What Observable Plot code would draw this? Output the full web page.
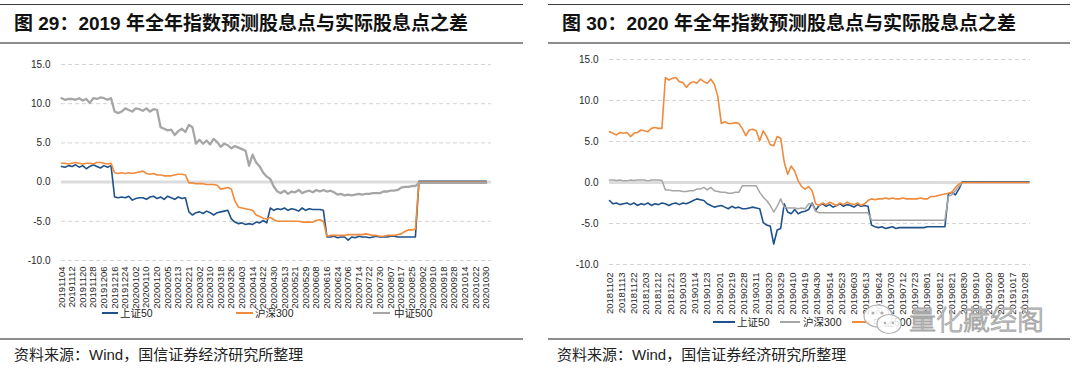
<!DOCTYPE html>
<html><head><meta charset="utf-8">
<script src="https://cdn.jsdelivr.net/npm/d3@7"></script>
<script src="https://cdn.jsdelivr.net/npm/@observablehq/plot@0.6"></script>
<style>
body{margin:0;background:#fff;}
#page{position:relative;width:1080px;height:369px;overflow:hidden;background:#fff;font-family:"Liberation Sans",Arial,"Noto Sans CJK SC",sans-serif;}
.abs{position:absolute;}
.rtop{height:1px;background:#3c3c3c;}
.rmid{height:2px;background:#8c8c8c;}
.rbot{height:2px;background:#8c8c8c;}
.title{font-family:"Liberation Sans","Noto Sans CJK SC",sans-serif;font-weight:bold;font-size:19px;line-height:20px;color:#111;white-space:nowrap;}
.src{font-family:"Liberation Sans","Noto Sans CJK SC",sans-serif;font-size:15px;line-height:16px;color:#222;white-space:nowrap;}
.lg{font-family:"Liberation Sans","Noto Sans CJK SC",sans-serif;font-size:10.5px;line-height:12px;color:#262626;white-space:nowrap;}
.lgline{height:2px;}
.wm{font-family:"Noto Sans CJK SC",sans-serif;font-weight:300;font-size:27px;line-height:30px;color:rgba(255,255,255,0.85);-webkit-text-stroke:1px #a8a8a8;white-space:nowrap;}
</style></head>
<body><div id="page"></div>
<script>
// ---------- data ----------
const STEP = 2; // values sampled every 2 trading days
// Figure 29 (2019 full-year), x labels every 6 trading days
const L_dates = ["20191104","20191112","20191120","20191128","20191206","20191216","20191224","20200102","20200110","20200120","20200205","20200213","20200221","20200302","20200310","20200318","20200326","20200403","20200414","20200422","20200430","20200513","20200521","20200529","20200608","20200616","20200624","20200706","20200714","20200722","20200730","20200807","20200817","20200825","20200902","20200910","20200918","20200928","20201014","20201022","20201030"];
const L_sz50 = [2.0,1.9,2.1,2.0,2.2,1.9,2.1,1.7,2.0,2.2,2.0,1.8,2.1,1.9,2.1,
 -1.9,-2.0,-1.9,-2.0,-1.8,-2.3,-2.1,-2.0,-2.0,-2.2,-1.9,-1.8,-2.1,-1.9,-2.2,-1.8,-2.0,-2.2,-1.9,-2.1,-2.0,
 -3.8,-4.2,-3.9,-3.8,-4.0,-3.7,-3.9,-4.2,-3.9,-3.8,-3.7,-3.6,
 -4.7,-5.1,-5.3,-5.2,-5.4,-5.3,-5.4,-5.1,-5.2,-4.9,-5.2,
 -3.3,-3.6,-3.4,-3.5,-3.3,-3.6,-3.4,-3.5,-3.7,-3.3,-3.6,-3.4,-3.5,-3.5,-3.5,-3.6,
 -7.0,-7.0,-6.9,-7.1,-7.0,-7.0,-7.4,-7.0,-7.1,-6.9,-7.0,-7.0,-7.1,-7.0,-6.9,-7.0,-7.0,-7.0,-6.9,-6.9,-7.0,-7.0,-7.0,-7.0,-7.0,-7.0,
 0.1,0.1,0.1,0.1,0.1,0.1,0.1,0.1,0.1,0.1,0.1,0.1,0.1,0.1,0.1,0.1,0.1,0.1,0.1,0.1];
const L_hs300 = [2.4,2.4,2.3,2.4,2.5,2.4,2.3,2.4,2.4,2.3,2.5,2.5,2.4,2.3,2.4,
 1.2,1.1,1.2,1.1,1.2,1.1,1.2,1.3,1.4,1.1,1.0,1.1,0.9,0.9,0.8,0.8,0.8,0.9,1.0,1.0,0.9,
 -0.1,-0.1,-0.2,-0.2,-0.2,-0.3,-0.3,-0.3,-0.4,
 -0.9,-0.8,-0.7,-0.9,
 -2.4,-3.2,-3.3,-3.4,-3.5,-3.6,
 -4.2,-4.4,-4.6,-4.7,-4.5,-4.8,
 -5.0,-5.0,-5.0,-5.0,-5.0,-5.0,-5.0,-5.1,-5.1,-5.1,-5.1,-4.9,-4.8,-5.0,
 -6.9,-6.8,-6.8,-6.8,-6.8,-6.8,-6.7,-6.7,-6.7,-6.7,-6.7,-6.6,-6.7,-6.8,-6.8,-6.9,-6.9,-6.8,-6.8,-6.8,-6.7,-6.6,-6.3,-6.1,-6.1,-6.0,
 0.0,0.0,0.0,0.0,0.0,0.0,0.0,0.0,0.0,0.0,0.0,0.0,0.0,0.0,0.0,0.0,0.0,0.0,0.0,0.0];
const L_zz500 = [10.7,10.5,10.6,10.6,10.5,10.7,10.4,10.6,10.1,10.7,10.6,10.8,10.7,10.5,10.7,
 9.0,8.8,9.0,9.4,9.2,9.0,9.4,9.3,9.1,9.4,9.0,9.3,9.2,
 7.0,6.8,6.6,6.7,6.0,6.5,6.8,6.4,7.3,7.0,
 4.9,5.4,4.9,5.3,4.8,5.5,5.1,4.5,4.9,4.7,4.3,4.6,4.4,4.2,4.0,
 2.1,3.5,2.5,2.0,1.2,0.7,0.4,
 -0.6,-1.2,-1.4,-1.1,-1.5,-1.2,-1.3,-1.0,-1.4,-1.2,-1.1,-1.3,-1.0,-1.2,-1.0,-1.2,-1.1,-1.3,
 -1.6,-1.5,-1.7,-1.6,-1.7,-1.6,-1.5,-1.6,-1.5,-1.5,-1.4,-1.4,-1.4,
 -1.2,-1.2,-1.1,-1.1,-1.0,-0.7,-0.6,-0.6,-0.5,-0.5,
 -0.1,-0.1,-0.1,-0.1,-0.1,-0.1,-0.1,-0.1,-0.1,-0.1,-0.1,-0.1,-0.1,-0.1,-0.1,-0.1,-0.1,-0.1,-0.1,-0.1];

// Figure 30 (2020 full-year), x labels every 7 trading days
const R_dates = ["20181102","20181113","20181122","20181203","20181212","20181221","20190103","20190114","20190123","20190201","20190219","20190228","20190311","20190320","20190329","20190410","20190419","20190430","20190514","20190523","20190603","20190613","20190624","20190703","20190712","20190723","20190801","20190812","20190821","20190830","20190910","20190920","20191008","20191017","20191028"];
const R_sz50 = [-2.2,-2.6,-2.5,-2.7,-2.6,-2.5,-2.7,-2.5,-2.8,-2.6,-2.7,-2.5,-2.8,-2.6,-2.7,-2.5,-2.6,-2.8,-2.6,-2.5,-2.7,-2.5,-2.6,-2.4,
 -2.2,-2.0,-2.1,-2.2,-2.6,-2.8,-3.0,-2.9,-2.8,-3.0,-3.2,-2.9,-3.1,-3.0,-3.2,-3.2,-3.1,-3.0,-3.1,-3.2,
 -4.9,-5.2,-5.3,-7.5,-5.8,-5.6,
 -2.6,-3.6,-3.8,-3.3,-3.8,-3.6,-3.5,-3.3,-2.5,
 -3.4,-2.8,-2.6,-2.9,-2.7,-3.0,-2.8,-2.6,-2.9,-2.7,-2.8,-3.0,-2.7,-2.9,-2.8,-2.9,
 -5.2,-5.4,-5.5,-5.4,-5.6,-5.5,-5.4,-5.6,-5.5,-5.5,-5.5,-5.5,-5.5,-5.5,-5.5,-5.5,-5.4,-5.4,-5.4,-5.4,-5.4,-5.4,
 -1.4,-1.2,-1.5,-0.8,
 0.1,0.1,0.1,0.1,0.1,0.1,0.1,0.1,0.1,0.1,0.1,0.1,0.1,0.1,0.1,0.1,0.1,0.1,0.1,0.1];
const R_hs300 = [0.3,0.3,0.25,0.3,0.2,0.2,0.3,0.25,0.3,0.3,0.3,0.2,0.3,0.3,0.3,0.25,
 -0.9,-0.9,-1.0,-1.0,-1.0,-1.1,-1.1,-1.0,-1.0,
 -0.8,-0.8,-0.6,-0.9,-0.6,-1.0,-1.1,-1.2,-1.2,-1.3,-1.3,-1.2,-1.2,
 -0.4,-0.4,-0.4,-0.4,-0.4,
 -1.2,-1.8,-2.2,-2.8,-3.6,-2.9,-2.0,-3.0,-3.1,-3.1,-3.1,-3.2,-3.1,-3.2,-2.6,-2.6,
 -3.5,-3.7,-3.7,-3.7,-3.7,-3.7,-3.7,-3.7,-3.7,-3.7,-3.7,-3.7,-3.7,-3.7,-3.7,-3.7,
 -4.6,-4.6,-4.6,-4.6,-4.6,-4.6,-4.6,-4.6,-4.6,-4.6,-4.6,-4.6,-4.6,-4.6,-4.6,-4.6,-4.6,-4.6,-4.6,-4.6,-4.6,-4.6,
 -1.7,-1.5,-1.0,-0.5,
 0.0,0.0,0.0,0.0,0.0,0.0,0.0,0.0,0.0,0.0,0.0,0.0,0.0,0.0,0.0,0.0,0.0,0.0,0.0,0.0];
const R_zz500 = [6.2,6.0,5.8,6.1,6.0,6.1,5.6,6.0,6.1,6.4,6.3,6.2,6.6,6.7,6.6,6.6,
 12.8,12.5,12.7,12.8,12.3,12.2,11.6,12.1,12.3,12.1,12.6,12.3,12.1,12.6,12.0,10.5,
 7.2,7.4,7.2,7.2,7.3,7.2,
 6.6,5.7,6.4,6.5,6.3,5.1,6.3,5.6,4.6,4.5,5.6,5.4,2.5,1.0,2.0,1.4,0.2,-0.5,-0.8,-0.5,
 -1.0,-2.6,
 -2.8,-2.5,-2.7,-2.4,-2.6,-2.8,-2.5,-2.7,-2.4,-2.6,-2.7,-2.5,-2.8,-2.6,
 -2.2,-2.0,
 -2.1,-2.0,-2.0,-1.9,-2.0,-1.9,-2.0,-2.0,-1.9,-2.0,-2.0,-2.0,-2.0,-1.9,-2.0,-2.0,
 -1.7,-1.7,-1.6,-1.5,-1.4,-1.3,-1.2,-0.6,-0.2,
 0.0,0.0,0.0,0.0,0.0,0.0,0.0,0.0,0.0,0.0,0.0,0.0,0.0,0.0,0.0,0.0,0.0,0.0,0.0,0.0];

const yTicks = [-10, -5, 0, 5, 10, 15];
const gridTicks = [-10, -5, 5, 10, 15];
const seriesNames = ["上证50", "沪深300", "中证500"];
const BLUE = "#1f528a", ORANGE = "#f08a3c", GRAY = "#a6a6a6";

// ---------- helpers ----------
const page = document.getElementById("page");
function box(cls, left, top, width, html, extra) {
  const d = document.createElement("div");
  d.className = "abs " + cls;
  d.style.left = left + "px"; d.style.top = top + "px";
  if (width != null) d.style.width = width + "px";
  if (html != null) d.innerHTML = html;
  if (extra) Object.assign(d.style, extra);
  page.appendChild(d);
  return d;
}
function chart(cfg) {
  const marks = [
    Plot.gridY(gridTicks, {stroke: "#d4d4d4", strokeOpacity: 1, strokeDasharray: "4,3"}),
    Plot.ruleY([0], {stroke: "#dcdcdc", strokeWidth: 3}),
    Plot.axisY(yTicks, {tickFormat: d => d.toFixed(1), tickSize: 0, tickPadding: cfg.yPad, fontSize: 10, fill: "#262626"}),
    Plot.axisX(cfg.dates.map((d, i) => i * cfg.tickEvery), {
      tickFormat: v => cfg.dates[Math.round(v / cfg.tickEvery)],
      tickRotate: -90, tickSize: 0, tickPadding: cfg.xPad, fontSize: 9.5, fill: "#262626"
    })
  ];
  cfg.series.forEach(s => {
    marks.push(Plot.line(s.values, {x: (d, i) => i * STEP, y: d => d, stroke: s.color, strokeWidth: s.width, curve: "linear"}));
  });
  const svg = Plot.plot({
    width: cfg.width, height: cfg.height,
    marginLeft: cfg.ml, marginRight: cfg.mr, marginTop: cfg.mt, marginBottom: cfg.mb,
    x: {domain: cfg.xDomain},
    y: {domain: [-10, 15]},
    style: {fontFamily: "'Liberation Sans', Arial, sans-serif", background: "transparent", overflow: "visible"},
    marks
  });
  svg.style.position = "absolute";
  svg.style.left = cfg.left + "px";
  svg.style.top = cfg.top + "px";
  page.appendChild(svg);
}
function legend(items, y) {
  items.forEach(it => {
    box("lgline", it.lx, y - 1, it.lw, "", {background: it.color});
    box("lg", it.tx, y - 6, null, it.name);
  });
}

// ---------- left panel ----------
box("rtop", 0, 4, 523, "");
box("title", 14, 14, null, "图 29：2019 年全年指数预测股息点与实际股息点之差");
box("rmid", 0, 42, 523, "");
chart({left: 0, top: 50, width: 506, height: 260, ml: 61, mr: 15, mt: 14, mb: 50,
  xDomain: [0, 243], dates: L_dates, tickEvery: 6, yPad: 11, xPad: 6,
  series: [
    {values: L_sz50, color: BLUE, width: 1.6},
    {values: L_hs300, color: ORANGE, width: 1.6},
    {values: L_zz500, color: GRAY, width: 2.3}
  ]});
legend([
  {lx: 102, lw: 16, tx: 120, color: BLUE, name: seriesNames[0]},
  {lx: 236, lw: 17, tx: 255, color: ORANGE, name: seriesNames[1]},
  {lx: 373, lw: 17, tx: 394, color: GRAY, name: seriesNames[2]}
], 313);
box("rbot", 0, 338, 523, "");
box("src", 14, 347, null, "资料来源：Wind，国信证券经济研究所整理");

// ---------- right panel ----------
box("rtop", 548, 4, 522, "");
box("title", 562, 14, null, "图 30：2020 年全年指数预测股息点与实际股息点之差");
box("rmid", 548, 42, 522, "");
chart({left: 540, top: 45, width: 500, height: 271, ml: 69, mr: 10, mt: 14, mb: 52,
  xDomain: [0, 241], dates: R_dates, tickEvery: 7, yPad: 11, xPad: 8,
  series: [
    {values: R_sz50, color: BLUE, width: 1.6},
    {values: R_hs300, color: GRAY, width: 1.5},
    {values: R_zz500, color: ORANGE, width: 1.6}
  ]});
legend([
  {lx: 713, lw: 22, tx: 737, color: BLUE, name: seriesNames[0]},
  {lx: 780, lw: 20, tx: 803, color: GRAY, name: seriesNames[1]},
  {lx: 852, lw: 18, tx: 873, color: ORANGE, name: seriesNames[2]}
], 322);
box("rbot", 548, 338, 522, "");
box("src", 557, 347, null, "资料来源：Wind，国信证券经济研究所整理");

// watermark
box("", 862, 302, 42, '<svg width="42" height="36" viewBox="0 0 42 36"><ellipse cx="16" cy="14" rx="14" ry="11" fill="rgba(255,255,255,0.85)" stroke="#b0b0b0" stroke-width="1.2"/><ellipse cx="27" cy="22" rx="12" ry="9.5" fill="rgba(255,255,255,0.85)" stroke="#b0b0b0" stroke-width="1.2"/><circle cx="11" cy="11" r="1.6" fill="#b0b0b0"/><circle cx="20" cy="11" r="1.6" fill="#b0b0b0"/><circle cx="23" cy="21" r="1.3" fill="#b0b0b0"/><circle cx="31" cy="21" r="1.3" fill="#b0b0b0"/></svg>');
box("wm", 909, 304, null, "量化藏经阁");
</script>
</body></html>
